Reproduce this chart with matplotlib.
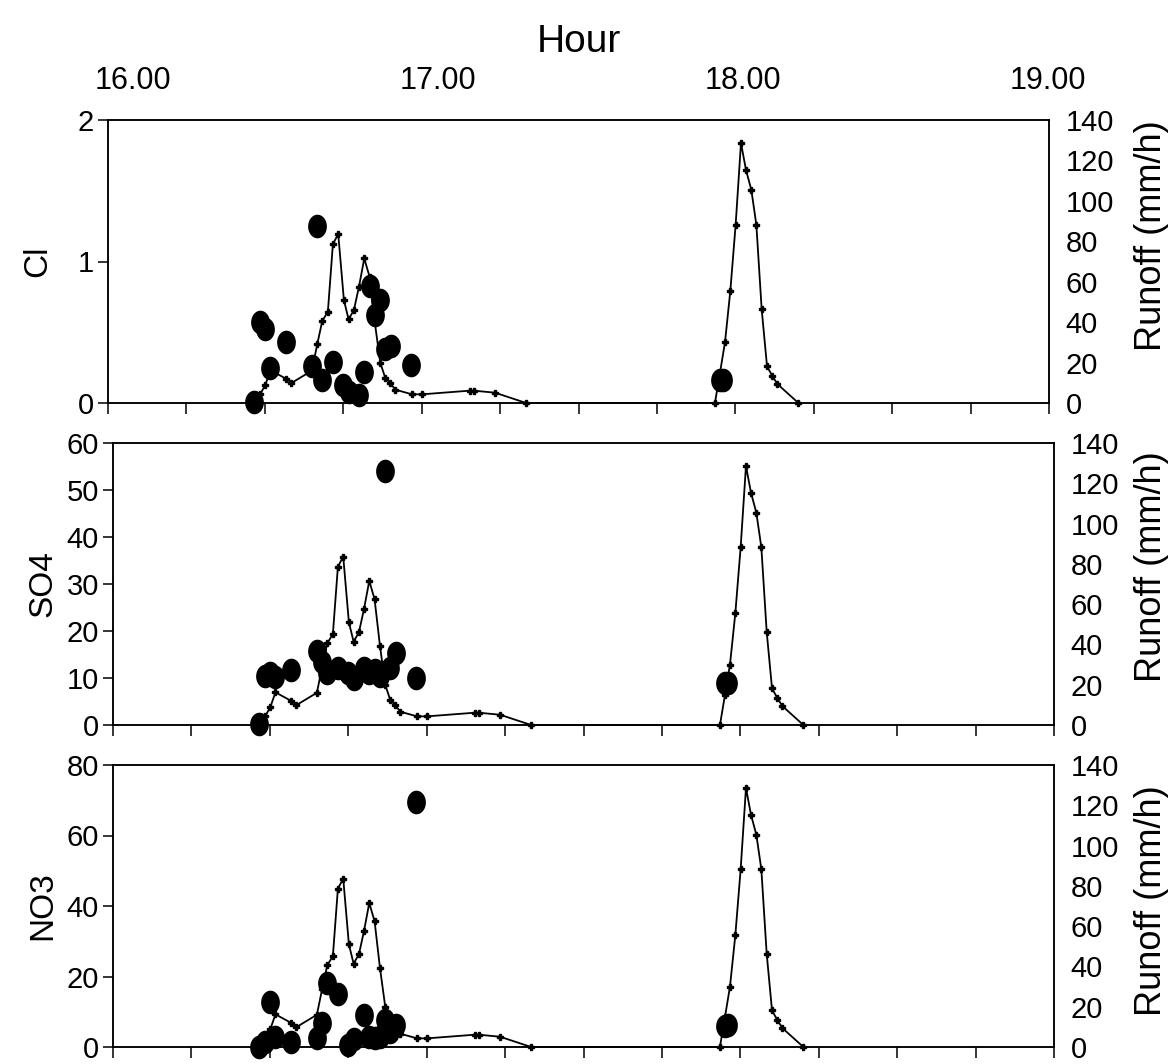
import numpy as np
import matplotlib
matplotlib.use('Agg')
import matplotlib.pyplot as plt
from matplotlib.path import Path

# ---------------- data ----------------
runoff_time = [16.468, 16.486, 16.502, 16.518, 16.569, 16.585, 16.650, 16.667, 16.683,
               16.701, 16.717, 16.734, 16.752, 16.767, 16.784, 16.800, 16.817, 16.834,
               16.851, 16.868, 16.884, 16.900, 16.916, 16.969, 17.002, 17.153, 17.166,
               17.234, 17.333,
               17.935, 17.951, 17.967, 17.984, 18.001, 18.018, 18.034, 18.051, 18.067,
               18.084, 18.101, 18.117, 18.134, 18.201]
runoff = [0, 4.5, 9.1, 16.2, 11.9, 9.9, 16, 29, 40.5,
          45.2, 78.6, 83.6, 51, 41.4, 46, 57.4, 71.5, 62.4,
          39.4, 19.9, 12.4, 9.8, 6.6, 4.3, 4.3, 6.1, 6.1,
          5.1, 0,
          0, 14.9, 30, 55.4, 88.2, 128.6, 115.3, 105.4, 88.2,
          46.3, 18.2, 13.6, 9.4, 0]

sample_time = [16.467, 16.484, 16.500, 16.518, 16.567, 16.650, 16.666, 16.682, 16.716,
               16.750, 16.767, 16.801, 16.816, 16.835, 16.851, 16.866, 16.884, 16.901,
               16.967]
cl = [0.01, 0.57, 0.52, 0.25, 0.43, 0.26, 1.25, 0.16, 0.29,
      0.13, 0.08, 0.06, 0.22, 0.83, 0.62, 0.73, 0.38, 0.40, 0.27]
so4 = [0.2, 10.4, 11.0, 10.3, 11.7, 15.8, 13.3, 11.0, 12.1,
       11.0, 9.7, 12.1, 11.0, 11.7, 10.4, 54.1, 12.1, 15.4, 9.9]
no3 = [0.1, 1.5, 12.9, 2.9, 1.5, 2.5, 6.7, 18.1, 15.0,
       0.6, 2.2, 9.1, 2.9, 2.5, 2.9, 7.7, 4.3, 6.2, 69.4]

event2_time = [17.950, 17.960]
cl_2 = [0.16, 0.16]
so4_2 = [9.0, 9.0]
no3_2 = [6.0, 6.2]

panel_names = ['Cl', 'SO4', 'NO3']
panel_ymax = [2, 60, 80]
panel_yticks = [[0, 1, 2], [0, 10, 20, 30, 40, 50, 60], [0, 20, 40, 60, 80]]
runoff_ticks = [0, 20, 40, 60, 80, 100, 120, 140]
hour_ticks = [16, 17, 18, 19]
hour_labels = ['16.00', '17.00', '18.00', '19.00']

# ---------------- style ----------------
SANS = ['Liberation Sans', 'DejaVu Sans']
plt.rcParams['font.family'] = SANS
plt.rcParams['axes.linewidth'] = 1.1

W, H = 1176, 1064
fig = plt.figure(figsize=(W / 100, H / 100), dpi=100)

# panel boxes in pixels: left, top, right, bottom
boxes = [(108, 120, 1049, 403), (113, 443, 1054, 725), (113, 765, 1054, 1047)]
right_label_y = [0.59, 0.56, 0.52]

theta = np.linspace(0, 2 * np.pi, 64)
ellipse = Path(np.column_stack([0.78 * np.cos(theta), np.sin(theta)]))

conc = [(cl, cl_2), (so4, so4_2), (no3, no3_2)]

for i, (l, t, r, b) in enumerate(boxes):
    ax = fig.add_axes([l / W, 1 - b / H, (r - l) / W, (b - t) / H])
    ax2 = ax.twinx()
    ax2.plot(runoff_time, runoff, color='k', lw=1.3, marker='P', ms=5,
             clip_on=False, zorder=2)
    ax2.set_ylim(0, 140)
    ax2.set_yticks(runoff_ticks)
    ax2.tick_params(axis='y', length=0, pad=12, labelsize=21)
    ax2.set_ylabel('Runoff (mm/h)', fontsize=26)
    ax2.yaxis.set_label_coords(1.09 if i == 0 else 1.085, right_label_y[i])

    ax.set_zorder(ax2.get_zorder() + 1)
    ax.patch.set_visible(False)
    vals, vals2 = conc[i]
    ax.plot(sample_time, vals, ls='none', marker=ellipse, ms=16, color='k',
            clip_on=False)
    ax.plot(event2_time, vals2, ls='none', marker=ellipse, ms=16, color='k',
            clip_on=False)
    ax.set_xlim(16, 19)
    ax.set_xticks(np.arange(16, 19.001, 0.25))
    ax.set_xticklabels([])
    ax.tick_params(axis='x', direction='out', length=8, width=1.1)
    ax.set_ylim(0, panel_ymax[i])
    ax.set_yticks(panel_yticks[i])
    ax.tick_params(axis='y', direction='out', length=7, width=1.1, pad=3,
                   labelsize=21)
    ax.set_ylabel(panel_names[i], fontsize=24)
    ax.yaxis.set_label_coords(-0.058, 0.5)

    if i == 0:
        axt = ax.twiny()
        axt.set_xlim(15.918, 19.003)
        axt.set_xticks(hour_ticks)
        axt.set_xticklabels(hour_labels)
        axt.tick_params(axis='x', length=0, pad=17, labelsize=22)
        axt.set_xlabel('Hour', fontsize=28, labelpad=10)
        for s in axt.spines.values():
            s.set_visible(False)

fig.savefig('out.png', dpi=100)
